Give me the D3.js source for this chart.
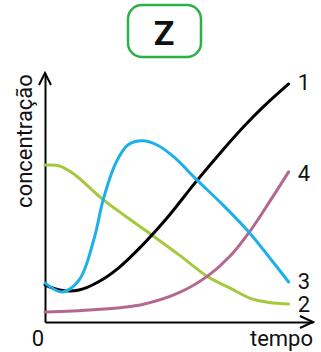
<!DOCTYPE html>
<html>
<head>
<meta charset="utf-8">
<script src="https://cdn.jsdelivr.net/npm/d3@7"></script>
<style>
  body { margin: 0; background: #fff; }
  text { font-family: Roboto, "Noto Sans", sans-serif; }
</style>
</head>
<body>
<div class="grafico"></div>
<script>
// tempo (0..10) e concentracao
var t1 = [0, 0.6, 1.4, 2.2, 3, 4, 5, 6.2, 7.3, 8.2, 9, 10];
var c1 = [1.52, 1.31, 1.31, 1.65, 2.2, 3.15, 4.25, 5.75, 7.05, 8.05, 8.85, 9.75];

var t2 = [0, 0.6, 1.2, 2.4, 4.1, 5.5, 6.7, 7.6, 8.4, 9.2, 10];
var c2 = [6.43, 6.39, 6.05, 5.0, 3.77, 2.75, 1.84, 1.39, 0.98, 0.8, 0.74];

var t3 = [0, 0.7, 1.4, 2.0, 2.4, 2.9, 3.4, 4.0, 4.6, 5.3, 6.2, 7.3, 8.4, 9.2, 10];
var c3 = [1.6, 1.23, 1.72, 3.36, 5.05, 6.5, 7.25, 7.42, 7.25, 6.75, 5.85, 4.8, 3.65, 2.66, 1.64];

var t4 = [0, 2, 4, 5.5, 6.7, 7.6, 8.4, 9.2, 10];
var c4 = [0.41, 0.5, 0.72, 1.2, 1.9, 2.7, 3.7, 4.9, 6.15];

var nomes = ["1", "2", "3", "4"];
var cores = ["#000000", "#a5c93c", "#1bb0ea", "#b5678f"];

var w = 321;
var h = 352;

var svg = d3.select(".grafico")
        .append("svg")
        .attr("width", w)
        .attr("height", h);

var x = d3.scaleLinear().domain([0, 11]).range([45, 313]);
var y = d3.scaleLinear().domain([0, 10.2]).range([322, 73]);

// caixa com o Z
svg.append("rect")
    .attr("x", 128).attr("y", 5)
    .attr("width", 73).attr("height", 52)
    .attr("rx", 14)
    .attr("fill", "none")
    .attr("stroke", "#2bb04b")
    .attr("stroke-width", 2.5);
svg.append("text")
    .text("Z")
    .attr("x", 164).attr("y", 45)
    .attr("text-anchor", "middle")
    .attr("font-size", "34px")
    .attr("font-weight", "bold")
    .attr("fill", "#111");

// eixos sem marcas
svg.append("g")
    .attr("transform", "translate(0," + y(0) + ")")
    .call(d3.axisBottom(x).tickValues([]).tickSizeOuter(0))
    .select(".domain").attr("stroke", "#000").attr("stroke-width", 2);
svg.append("g")
    .attr("transform", "translate(" + x(0) + ",0)")
    .call(d3.axisLeft(y).tickValues([]).tickSizeOuter(0))
    .select(".domain").attr("stroke", "#000").attr("stroke-width", 2);

// setas
var xe = x.range()[1], y0 = y(0), ye = y.range()[1], x0 = x(0);
svg.append("path")
    .attr("d", "M" + (xe - 13) + "," + (y0 - 6) + "L" + xe + "," + y0 + "L" + (xe - 13) + "," + (y0 + 6))
    .attr("fill", "none").attr("stroke", "#000").attr("stroke-width", 2);
svg.append("path")
    .attr("d", "M" + (x0 - 6) + "," + (ye + 12) + "L" + x0 + "," + ye + "L" + (x0 + 6) + "," + (ye + 12))
    .attr("fill", "none").attr("stroke", "#000").attr("stroke-width", 2);

var linha = d3.line()
    .x(function(d) { return x(d[0]); })
    .y(function(d) { return y(d[1]); })
    .curve(d3.curveCatmullRom.alpha(0.5));

var series = [d3.zip(t1, c1), d3.zip(t2, c2), d3.zip(t3, c3), d3.zip(t4, c4)];
var ordem = [1, 3, 0, 2]; // verde, rosa, preto, azul

ordem.forEach(function(i) {
    svg.append("path")
        .datum(series[i])
        .attr("d", linha)
        .attr("fill", "none")
        .attr("stroke", cores[i])
        .attr("stroke-width", 3)
        .attr("stroke-linecap", "round");
});

// numeros das curvas
var dy = [6, 8, 7, 9];
series.forEach(function(s, i) {
    var last = s[s.length - 1];
    svg.append("text")
        .text(nomes[i])
        .attr("x", x(last[0]) + 9)
        .attr("y", y(last[1]) + dy[i])
        .attr("font-size", "22px")
        .attr("fill", "#111");
});

svg.append("text")
    .text("0")
    .attr("x", 38).attr("y", 346)
    .attr("text-anchor", "middle")
    .attr("font-size", "22px")
    .attr("fill", "#111");

svg.append("text")
    .text("tempo")
    .attr("x", 313).attr("y", 346)
    .attr("text-anchor", "end")
    .attr("font-size", "22px")
    .attr("fill", "#111");

svg.append("text")
    .text("concentração")
    .attr("transform", "translate(32,141) rotate(-90)")
    .attr("text-anchor", "middle")
    .attr("font-size", "22px")
    .attr("fill", "#111");
</script>
</body>
</html>
